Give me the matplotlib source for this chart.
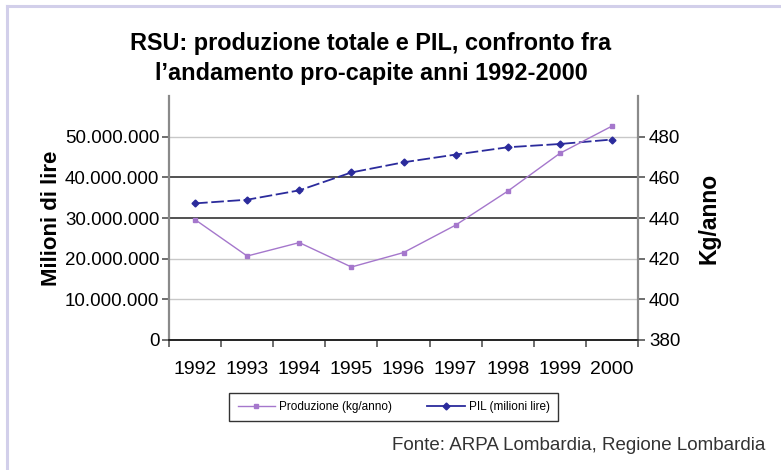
#!/usr/bin/env python3
"""RSU production vs PIL per capita, Lombardia 1992-2000."""
import matplotlib
matplotlib.use("Agg")
import matplotlib.pyplot as plt
from matplotlib.ticker import FuncFormatter, FixedLocator

years = ["1992", "1993", "1994", "1995", "1996", "1997", "1998", "1999", "2000"]
pil = [33.6e6, 34.5e6, 36.8e6, 41.2e6, 43.7e6, 45.6e6, 47.4e6, 48.2e6, 49.3e6]
produzione = [439.2, 421.3, 427.9, 415.9, 423.0, 436.5, 453.2, 471.8, 485.2]
left_ticks = [0, 10e6, 20e6, 30e6, 40e6, 50e6]
right_ticks = [380, 400, 420, 440, 460, 480]

plt.rcParams["font.family"] = ["Liberation Sans", "DejaVu Sans"]

BLUE = "#2b2b9c"
PURPLE = "#a577cc"
LAVENDER = "#d2cfea"

fig = plt.figure(figsize=(7.81, 4.70), dpi=100)
fig.patch.set_facecolor("white")

# lavender frame (top and left edges)
fig.add_artist(plt.Line2D([0.009, 1.0], [0.987, 0.987], color=LAVENDER, lw=2.2,
                          transform=fig.transFigure))
fig.add_artist(plt.Line2D([0.009, 0.009], [0.0, 0.987], color=LAVENDER, lw=2.2,
                          transform=fig.transFigure))

ax = fig.add_axes([0.2164, 0.2766, 0.6005, 0.5191])
ax2 = ax.twinx()

x = list(range(len(years)))

# gridlines: 30M and 40M drawn dark, the rest light gray
for v in left_ticks[1:]:
    if v in (30e6, 40e6):
        ax.axhline(v, color="#222222", lw=1.1, zorder=1)
    else:
        ax.axhline(v, color="#c8c8c8", lw=1.0, zorder=1)

ax.plot(x, pil, color=BLUE, lw=1.3, marker="D", markersize=3.5,
        dashes=(7, 2), zorder=3)
ax2.plot(x, produzione, color=PURPLE, lw=1.0, marker="s", markersize=3.5, zorder=3)

ax.set_xlim(-0.5, len(years) - 0.5)
ax.set_ylim(0, 60e6)
ax2.set_ylim(380, 500)

ax.set_yticks(left_ticks)
ax.yaxis.set_major_formatter(FuncFormatter(lambda v, p: f"{int(v):,}".replace(",", ".")))
ax2.set_yticks(right_ticks)

ax.set_xticks(x)
ax.set_xticklabels(years)
ax.xaxis.set_minor_locator(FixedLocator([i - 0.5 for i in range(len(years) + 1)]))
ax.tick_params(axis="x", which="major", length=0, pad=15, labelsize=14)
ax.tick_params(axis="x", which="minor", length=5, width=1.2, color="#555555")
ax.tick_params(axis="y", length=5, width=1.2, color="#555555", labelsize=13.5, pad=2)
ax2.tick_params(axis="y", length=5, width=1.2, color="#555555", labelsize=13.5, pad=3)

for a in (ax, ax2):
    a.spines["top"].set_visible(False)
    a.spines["left"].set_color("#8a8a8a")
    a.spines["right"].set_color("#8a8a8a")
    a.spines["left"].set_linewidth(1.6)
    a.spines["right"].set_linewidth(1.6)
    a.spines["bottom"].set_color("#222222")
    a.spines["bottom"].set_linewidth(1.2)
ax.spines["right"].set_visible(False)
ax2.spines["left"].set_visible(False)

ax.set_ylabel("Milioni di lire", fontsize=16, fontweight="bold", labelpad=2)
ax2.set_ylabel("Kg/anno", fontsize=16.5, fontweight="bold", labelpad=12)

fig.text(0.475, 0.907, "RSU: produzione totale e PIL, confronto fra",
         ha="center", va="center", fontsize=16.9, fontweight="bold")
fig.text(0.475, 0.843, "l\u2019andamento pro-capite anni 1992-2000",
         ha="center", va="center", fontsize=16.9, fontweight="bold")

h1 = plt.Line2D([], [], color=PURPLE, lw=1.0, marker="s", markersize=3.5)
h2 = plt.Line2D([], [], color=BLUE, lw=1.3, marker="D", markersize=3.5)
leg = fig.legend([h1, h2], ["Produzione (kg/anno)", "PIL (milioni lire)"],
                 loc="center", bbox_to_anchor=(0.504, 0.134), ncol=2,
                 fontsize=8.5, frameon=True, fancybox=False, handlelength=3.2,
                 columnspacing=3.0, borderpad=0.7, handletextpad=0.3)
leg.get_frame().set_edgecolor("black")
leg.get_frame().set_linewidth(1.0)

fig.text(0.98, 0.053, "Fonte: ARPA Lombardia, Regione Lombardia",
         ha="right", va="center", fontsize=13.5, color="#333333")

fig.savefig("out.png", dpi=100)
